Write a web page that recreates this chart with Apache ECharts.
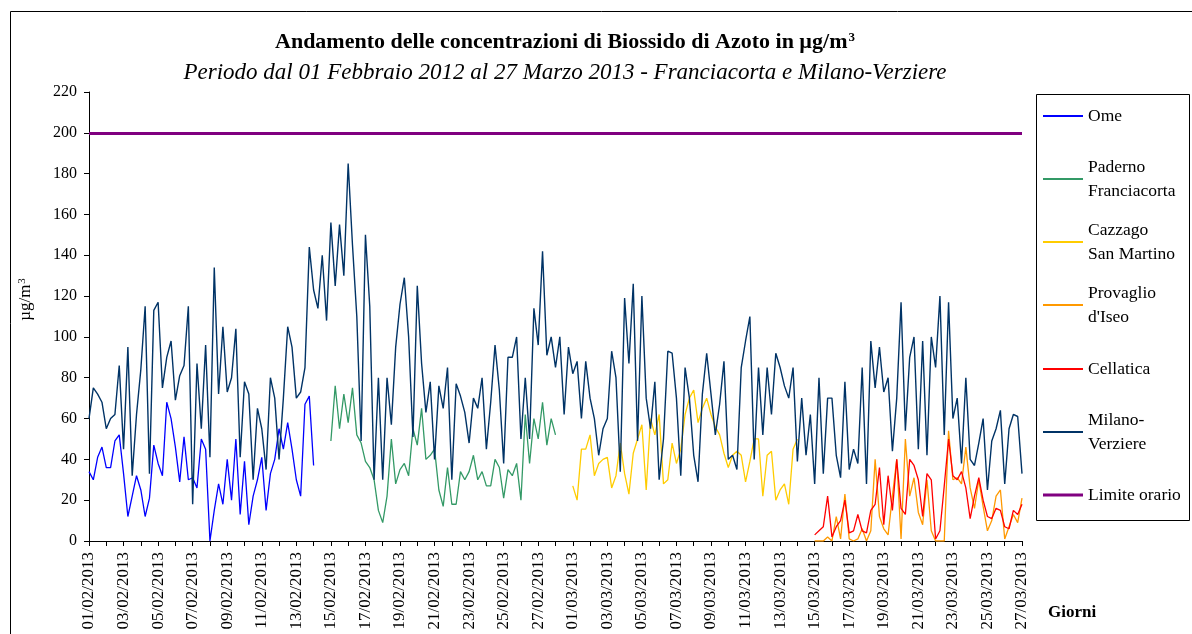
<!DOCTYPE html>
<html>
<head>
<meta charset="utf-8">
<title>Biossido di Azoto</title>
<script src="https://cdn.jsdelivr.net/npm/echarts@6/dist/echarts.min.js"></script>
<style>
html, body { margin: 0; padding: 0; background: #fff; }
#chart { width: 1192px; height: 634px; }
</style>
</head>
<body>
<div id="chart"></div>
<script>
var START = Date.UTC(2013, 1, 1);   // 01/02/2013 00:00
var STEPS = 217;                    // fino al 27/03/2013 00:00
var LIMITE = 200;                   // limite orario

var milano = [
    60, 75, 72, 68,     55, 60, 62, 86,     45, 95, 32, 62,     84, 115, 33, 113,
    117, 75, 90, 98,    69, 81, 86, 115,    18, 87, 55, 96,     41, 134, 72, 105,
    73, 80, 104, 41,    78, 72, 30, 65,     55, 35, 80, 70,     40, 70, 105, 95,
    70, 73, 85, 144,    123, 114, 140, 108, 156, 125, 155, 130, 185, 145, 110, 49,
    150, 115, 30, 80,   30, 80, 57, 95,     116, 129, 100, 51,  125, 87, 63, 78,
    40, 76, 65, 85,     30, 77, 71, 63,     48, 70, 65, 80,     45, 68, 96, 74,
    38, 90, 90, 100,    50, 80, 50, 114,    96, 142, 91, 100,   85, 100, 62, 95,
    82, 88, 60, 88,     70, 60, 42, 55,     60, 93, 80, 34,     119, 87, 126, 49,
    120, 70, 55, 78,    30, 50, 93, 92,     70, 32, 85, 70,     42, 29, 72, 92,
    72, 52, 67, 88,     40, 42, 35, 85,     98, 110, 40, 85,    52, 85, 62, 92,
    85, 76, 70, 85,     39, 70, 42, 62,     28, 80, 33, 70,     70, 42, 31, 78,
    35, 45, 38, 85,     28, 98, 75, 95,     73, 80, 44, 70,     117, 54, 90, 100,
    45, 98, 42, 100,    85, 120, 52, 117,   60, 70, 38, 80,     40, 37, 48, 60,
    25, 49, 55, 64,     28, 55, 62, 61,     33
];

// Ome: dal 01/02 al 14/02
var ome = [
    34, 30, 41, 46,  36, 36, 49, 52,  33, 12, 22, 32,  25, 12, 21, 47,
    38, 32, 68, 60,  46, 29, 51, 30,  31, 26, 50, 45,  0, 15, 28, 18,
    40, 20, 50, 13,  39, 8, 22, 30,   41, 15, 33, 40,  55, 45, 58, 45,
    30, 22, 67, 71,  37
];
var omeStart = 0;

// Paderno Franciacorta: dal 15/02 al 28/02
var paderno = [
    49, 76, 55, 72,  58, 75, 52, 48,  39, 36, 30, 15,  9, 22, 50, 28,
    35, 38, 32, 55,  47, 65, 40, 42,  45, 25, 17, 36,  18, 18, 34, 30,
    34, 42, 30, 34,  27, 27, 40, 36,  21, 35, 32, 38,  20, 62, 38, 60,
    50, 68, 47, 60,  52
];
var padernoStart = 56;

// Cazzago San Martino: dal 01/03 al 14/03
var cazzago = [
    27, 20, 45, 45,  52, 32, 38, 40,  41, 26, 32, 48,  33, 23, 43, 50,
    57, 25, 60, 52,  62, 28, 30, 48,  38, 45, 62, 70,  74, 58, 65, 70,
    62, 56, 52, 43,  36, 42, 44, 42,  29, 39, 50, 50,  22, 42, 44, 20,
    25, 28, 18, 45,  50
];
var cazzagoStart = 112;

// Provaglio d'Iseo e Cellatica: dal 15/03 al 27/03
var provaglio = [
    0, 0, 0, 2,     0, 12, 1, 23,   1, 0, 1, 6,     0, 5, 40, 12,
    6, 3, 22, 40,   1, 50, 22, 31,  14, 8, 30, 5,   0, 0, 0, 54,
    30, 31, 28, 46, 26, 16, 30, 17, 5, 10, 22, 25,  1, 7, 13, 9,
    21
];
var cellatica = [
    3, 5, 7, 22,    2, 7, 10, 20,   4, 5, 13, 5,    4, 15, 18, 36,
    8, 32, 15, 40,  16, 13, 40, 37, 30, 12, 33, 30, 1, 5, 27, 50,
    32, 30, 34, 26, 11, 22, 31, 20, 12, 11, 16, 15, 7, 6, 15, 13,
    18
];
var lateStart = 168;

var names = ['Ome', 'Paderno Franciacorta', 'Cazzago San Martino', "Provaglio d'Iseo", 'Cellatica', 'Milano-Verziere', 'Limite orario'];
var legendText = ['Ome', 'Paderno\nFranciacorta', 'Cazzago\nSan Martino', "Provaglio\nd'Iseo", 'Cellatica', 'Milano-\nVerziere', 'Limite orario'];
var colors = ['#0000ff', '#339966', '#ffcc00', '#ff9900', '#ff0000', '#003366', '#800080'];

function pad2(n) { return (n < 10 ? '0' : '') + n; }

var categories = [];
for (var i = 0; i < STEPS; i++) {
    var d = new Date(START + i * 6 * 3600 * 1000);
    categories.push(pad2(d.getUTCDate()) + '/' + pad2(d.getUTCMonth() + 1) + '/' + d.getUTCFullYear() + ' ' + pad2(d.getUTCHours()) + ':00');
}

// mette i valori nella posizione giusta della serie completa
function place(start, values) {
    var out = [];
    for (var i = 0; i < STEPS; i++) out.push('-');
    for (var j = 0; j < values.length; j++) out[start + j] = values[j];
    return out;
}

var serif = '"Liberation Serif", "Times New Roman", serif';

function lineSeries(idx, data, width) {
    return {
        name: names[idx],
        type: 'line',
        data: data,
        symbol: 'none',
        showSymbol: false,
        color: colors[idx],
        lineStyle: { color: colors[idx], width: width },
        animation: false
    };
}

var series = [
    lineSeries(0, place(omeStart, ome), 1.3),
    lineSeries(1, place(padernoStart, paderno), 1.3),
    lineSeries(2, place(cazzagoStart, cazzago), 1.3),
    lineSeries(3, place(lateStart, provaglio), 1.3),
    lineSeries(4, place(lateStart, cellatica), 1.3),
    lineSeries(5, milano, 1.4),
    {
        name: names[6],
        type: 'line',
        data: [],
        color: colors[6],
        lineStyle: { color: colors[6], width: 3 },
        markLine: {
            symbol: 'none',
            silent: true,
            animation: false,
            label: { show: false },
            lineStyle: { color: colors[6], width: 3, type: 'solid' },
            data: [{ yAxis: LIMITE }]
        }
    }
];

// una legenda per voce, per poterle posizionare come nell'originale
var legendY = [116, 179, 242, 305, 369, 432, 495];
var legends = names.map(function (n, i) {
    var two = legendText[i].indexOf('\n') >= 0;
    return {
        data: [n],
        left: 1043,
        top: legendY[i] - (two ? 36 : 12),
        padding: 0,
        itemGap: 0,
        itemWidth: 40,
        itemHeight: i === 6 ? 3 : 2,
        icon: 'rect',
        selectedMode: false,
        formatter: function () { return legendText[i]; },
        textStyle: {
            fontFamily: serif,
            fontSize: 17.5,
            color: '#000',
            lineHeight: 24,
            padding: two ? [24, 0, 0, 0] : 0
        }
    };
});

var option = {
    backgroundColor: '#fff',
    animation: false,
    title: {
        text: '{b|Andamento delle concentrazioni di Biossido di Azoto in \u00b5g/m}{sup|3}',
        subtext: "Periodo dal 01 Febbraio 2012 al 27 Marzo 2013 - Franciacorta e Milano-Verziere",
        left: 560,
        textAlign: 'center',
        top: 26,
        itemGap: 8,
        textStyle: {
            rich: {
                b: { fontFamily: serif, fontWeight: 'bold', fontSize: 22, color: '#000' },
                sup: { fontFamily: serif, fontWeight: 'bold', fontSize: 13, color: '#000', verticalAlign: 'top', padding: [0, 0, 6, 1] }
            }
        },
        subtextStyle: { fontFamily: serif, fontStyle: 'italic', fontSize: 23, color: '#000' }
    },
    legend: legends,
    grid: { left: 89, right: 170, top: 92, bottom: 93 },
    xAxis: {
        type: 'category',
        data: categories,
        boundaryGap: false,
        axisLine: { lineStyle: { color: '#000', width: 1 } },
        axisTick: { interval: 3, length: 5, lineStyle: { color: '#000' } },
        axisLabel: {
            interval: 7,
            rotate: 90,
            margin: 11,
            fontFamily: serif,
            fontSize: 17,
            color: '#000',
            formatter: function (v) { return v.slice(0, 10); }
        },
        splitLine: { show: false }
    },
    yAxis: {
        type: 'value',
        min: 0,
        max: 220,
        interval: 20,
        name: '{a|\u00b5g/m}{s|3}',
        nameLocation: 'middle',
        nameRotate: 90,
        nameGap: 55,
        nameTextStyle: {
            padding: [0, 0, 0, 34],
            rich: {
                a: { fontFamily: serif, fontSize: 17, color: '#000' },
                s: { fontFamily: serif, fontSize: 11, color: '#000', verticalAlign: 'top', padding: [0, 0, 6, 1] }
            }
        },
        axisLine: { show: true, lineStyle: { color: '#000' } },
        axisTick: { show: true, length: 5, lineStyle: { color: '#000' } },
        axisLabel: { fontFamily: serif, fontSize: 16, color: '#000', margin: 12 },
        splitLine: { show: false }
    },
    graphic: [
        { type: 'rect', shape: { x: 10.5, y: 11.5, width: 1300, height: 800 }, style: { fill: 'none', stroke: '#000', lineWidth: 1 }, silent: true },
        { type: 'rect', shape: { x: 1036.5, y: 94.5, width: 153, height: 426 }, style: { fill: 'none', stroke: '#000', lineWidth: 1 }, silent: true },
        { type: 'text', left: 1048, top: 604, style: { text: 'Giorni', font: 'bold 17px ' + serif, fill: '#000' }, silent: true }
    ],
    series: series
};

var myChart = echarts.init(document.getElementById('chart'));
myChart.setOption(option);
window.addEventListener('resize', function () {
    myChart.resize();
});
</script>
</body>
</html>
